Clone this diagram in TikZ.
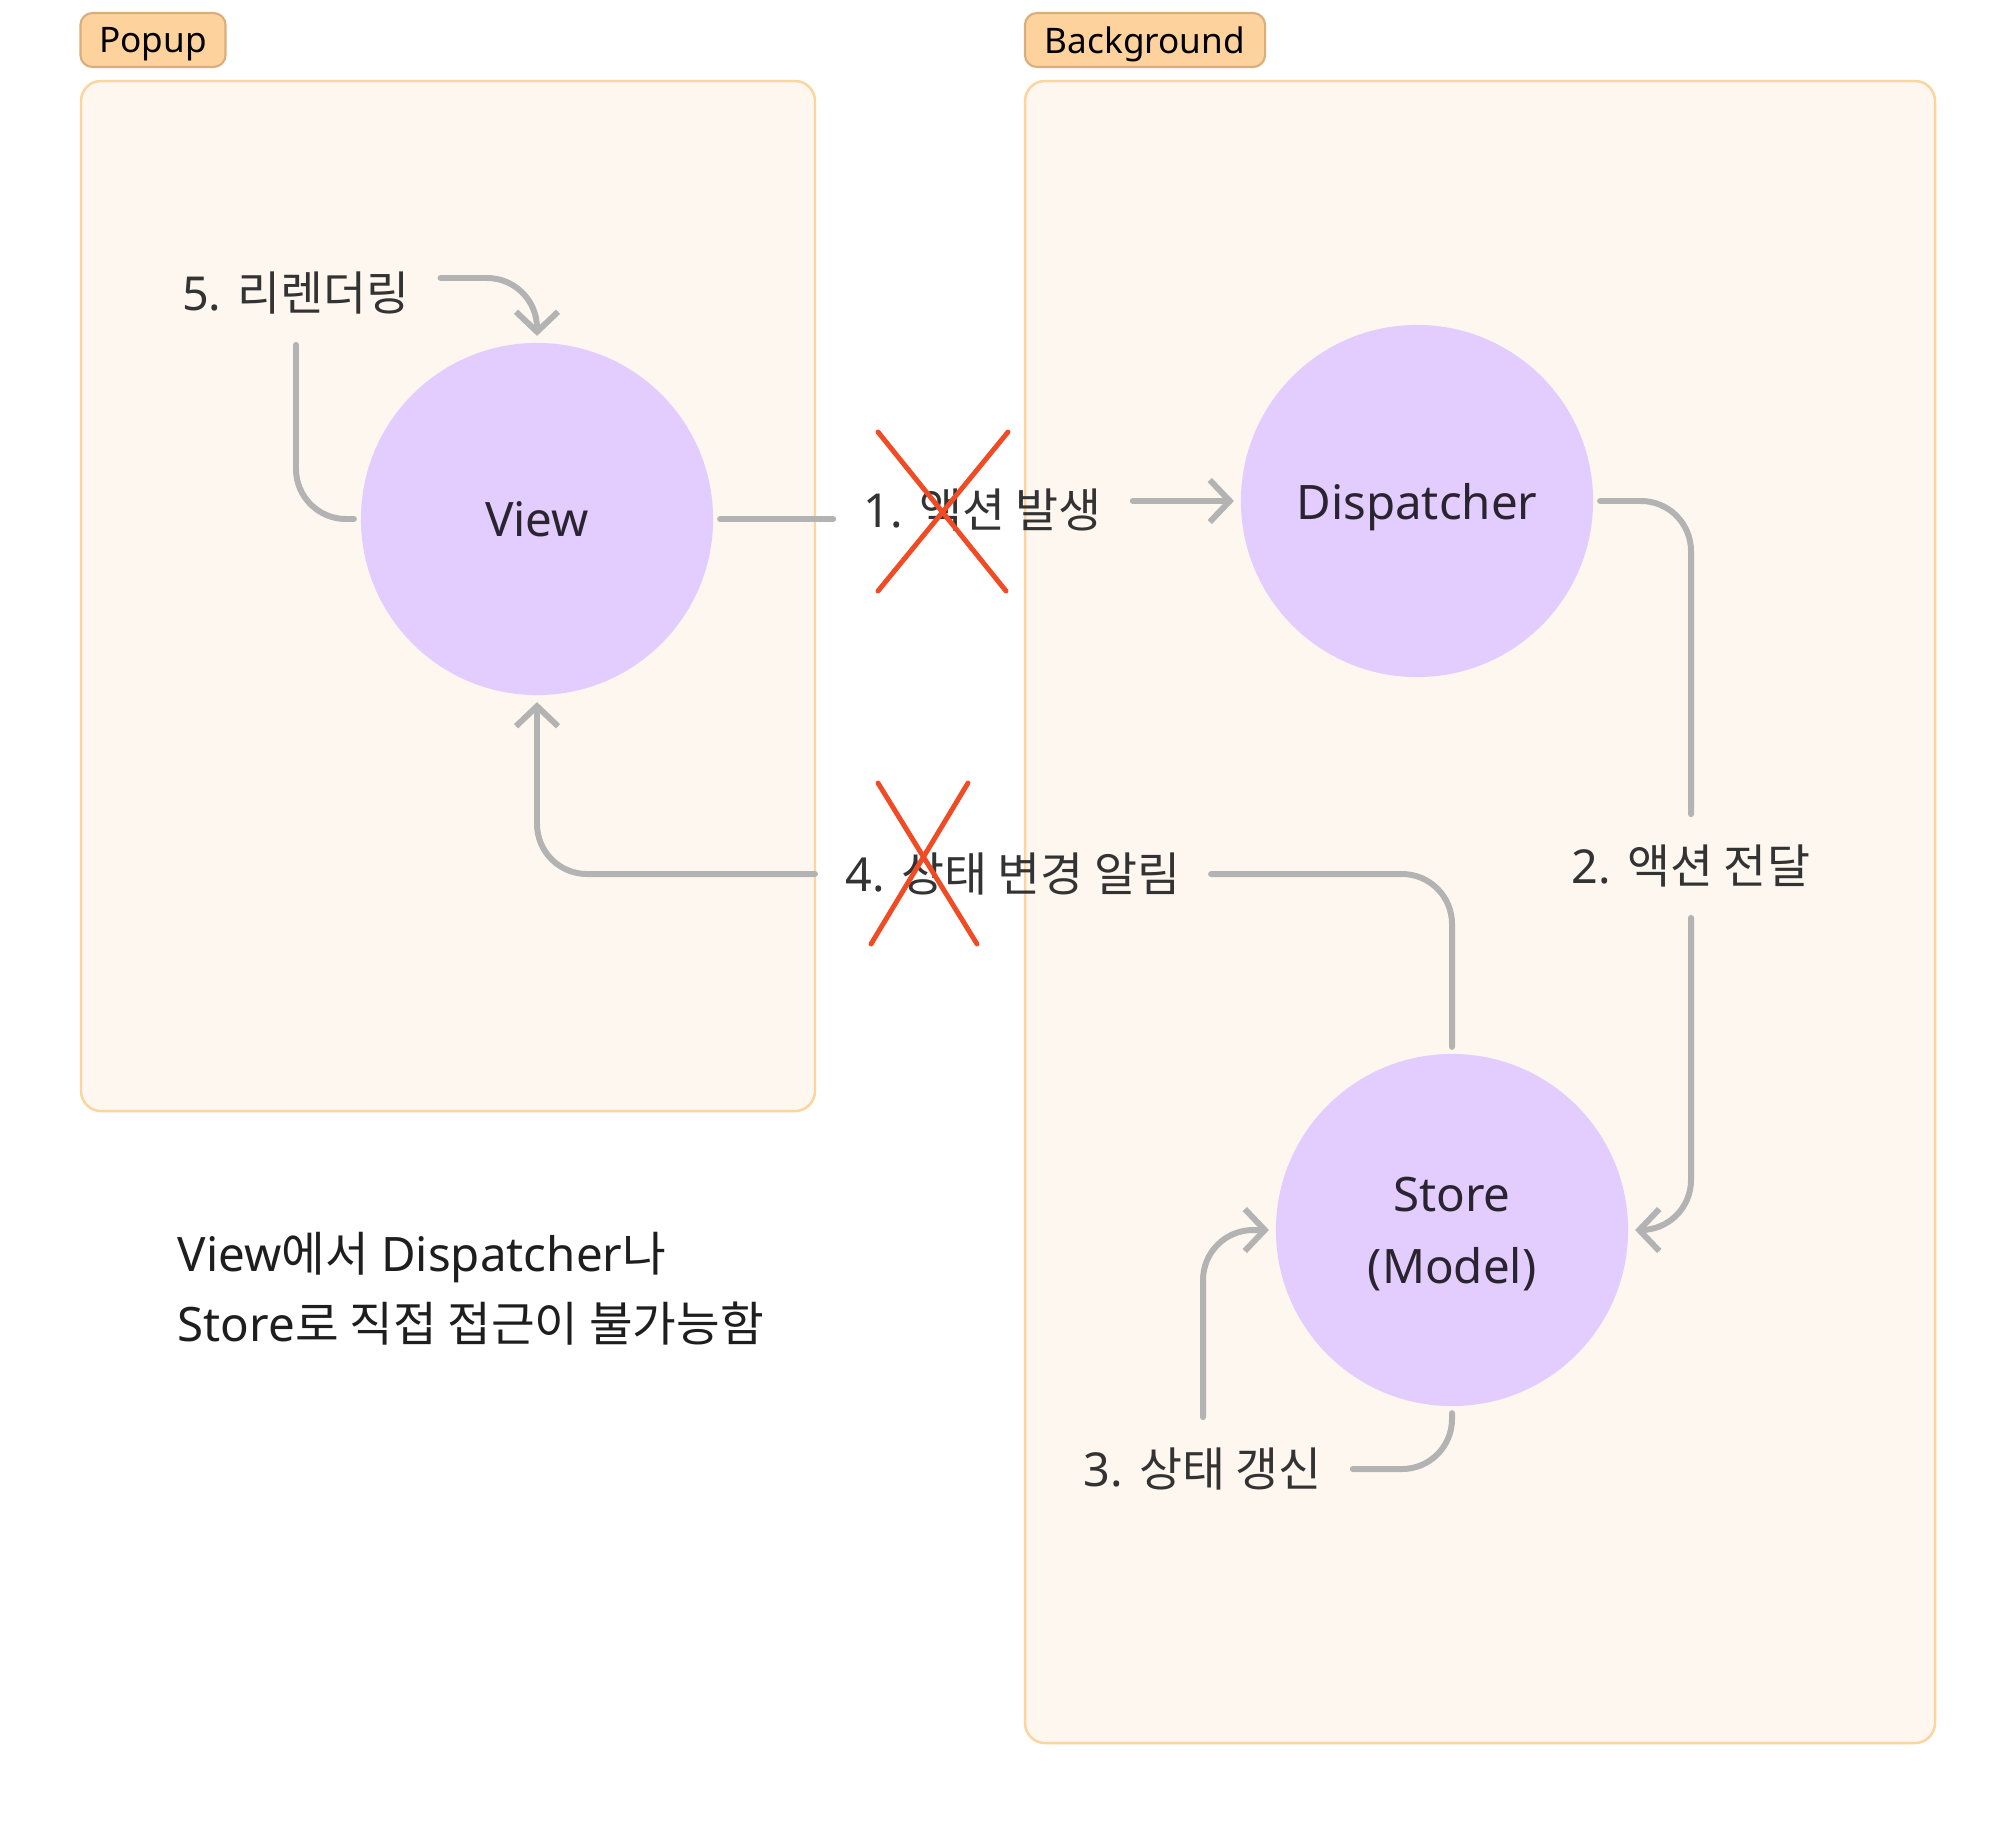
\documentclass[tikz,border=0pt]{standalone}
\usepackage{fontspec}
\setmainfont{Noto Sans}
\newfontfamily\kr{Noto Sans CJK KR}
\usetikzlibrary{arrows.meta,positioning}
\definecolor{boxfill}{HTML}{FEF7F0}
\definecolor{boxline}{HTML}{FCD49E}
\definecolor{tagfill}{HTML}{FDD29D}
\definecolor{tagline}{HTML}{D9AE7C}
\definecolor{nodefill}{HTML}{E3CCFE}
\definecolor{nodetext}{HTML}{2A2330}
\definecolor{flowline}{HTML}{B3B3B3}
\definecolor{steptext}{HTML}{333333}
\definecolor{notetext}{HTML}{1E1E1E}
\definecolor{crossred}{HTML}{F04B24}
\begin{document}
\begin{tikzpicture}[x=0.01cm, y=-0.01cm, line cap=round, line join=round,
    region/.style={draw=boxline, fill=boxfill, line width=0.7pt, rounded corners=0.2cm},
    tag/.style={draw=tagline, fill=tagfill, line width=0.6pt, rounded corners=0.12cm,
      minimum height=0.54cm, inner sep=0pt, text depth=0pt, font=\fontsize{10}{12}\selectfont},
    stage/.style={circle, fill=nodefill, minimum size=3.52cm, inner sep=0pt, outer sep=0.07cm,
      text=nodetext, text depth=0pt, align=center, font=\fontsize{13.5}{20.5}\selectfont},
    steplabel/.style={inner sep=0.3cm, text=steptext, font=\fontsize{13.3}{16}\selectfont},
    flow/.style={draw=flowline, line width=1.7pt, rounded corners=0.5cm},
    flowarrow/.style={flow, -{Straight Barb[length=0.2cm, width=0.42cm]}},
    cross/.style={draw=crossred, line width=1.4pt}]
  % --- canvas --------------------------------------------------
  \fill[white] (0,0) rectangle (2016,1824);
  \useasboundingbox (0,0) rectangle (2016,1824);
  % --- regions -------------------------------------------------
  \draw[region] (81,81) rectangle (815,1111);
  \draw[region] (1025,81) rectangle (1935,1743);
  \node[tag, minimum width=1.45cm] (popuptag) at (153,40) {Popup};
  \node[tag, minimum width=2.40cm] (bgtag) at (1145,40) {Background};
  % --- stages --------------------------------------------------
  \node[stage] (view) at (537,519) {View};
  \node[stage] (dispatcher) at (1417,501) {Dispatcher};
  \node[stage] (store) at (1452,1230) {Store\\(Model)};
  % --- step labels ---------------------------------------------
  \node[steplabel] (emit) at (983,510) {1. {\kr 액션 발생}};
  \node[steplabel] (pass) at (1691,866) {2. {\kr 액션 전달}};
  \node[steplabel] (update) at (1203,1469) {3. {\kr 상태 갱신}};
  \node[steplabel] (notify) at (1013,874) {4. {\kr 상태 변경 알림}};
  \node[steplabel] (rerender) at (296,293) {5. {\kr 리렌더링}};
  % --- flows ---------------------------------------------------
  \draw[flow] (view.east) -- (view.east -| emit.west);
  \draw[flowarrow] (emit.east |- dispatcher.west) -- (dispatcher.west);
  \draw[flow] (dispatcher.east) -| (pass.north);
  \draw[flowarrow] (pass.south) |- (store.east);
  \draw[flow] (store.south) |- (update.east);
  \draw[flowarrow] (update.north) |- (store.west);
  \draw[flow] (store.north) |- (notify.east);
  \draw[flowarrow] (notify.west) -| (view.south);
  \draw[flow] (rerender.south) |- (view.west);
  \draw[flowarrow] ([yshift=0.15cm]rerender.east) -| (view.north);
  % --- blocked paths -------------------------------------------
  \draw[cross] (878,432) -- (1006,591);
  \draw[cross] (1008,432) -- (878,591);
  \draw[cross] (878,783) -- (977,944);
  \draw[cross] (968,783) -- (871,944);
  % --- note ----------------------------------------------------
  \node[anchor=west, align=left, inner sep=0pt, text=notetext,
    font=\fontsize{13.5}{19.9}\selectfont] (remark) at (177,1289)
    {View{\kr 에서} Dispatcher{\kr 나}\\Store{\kr 로 직접 접근이 불가능함}};
\end{tikzpicture}
\end{document}
